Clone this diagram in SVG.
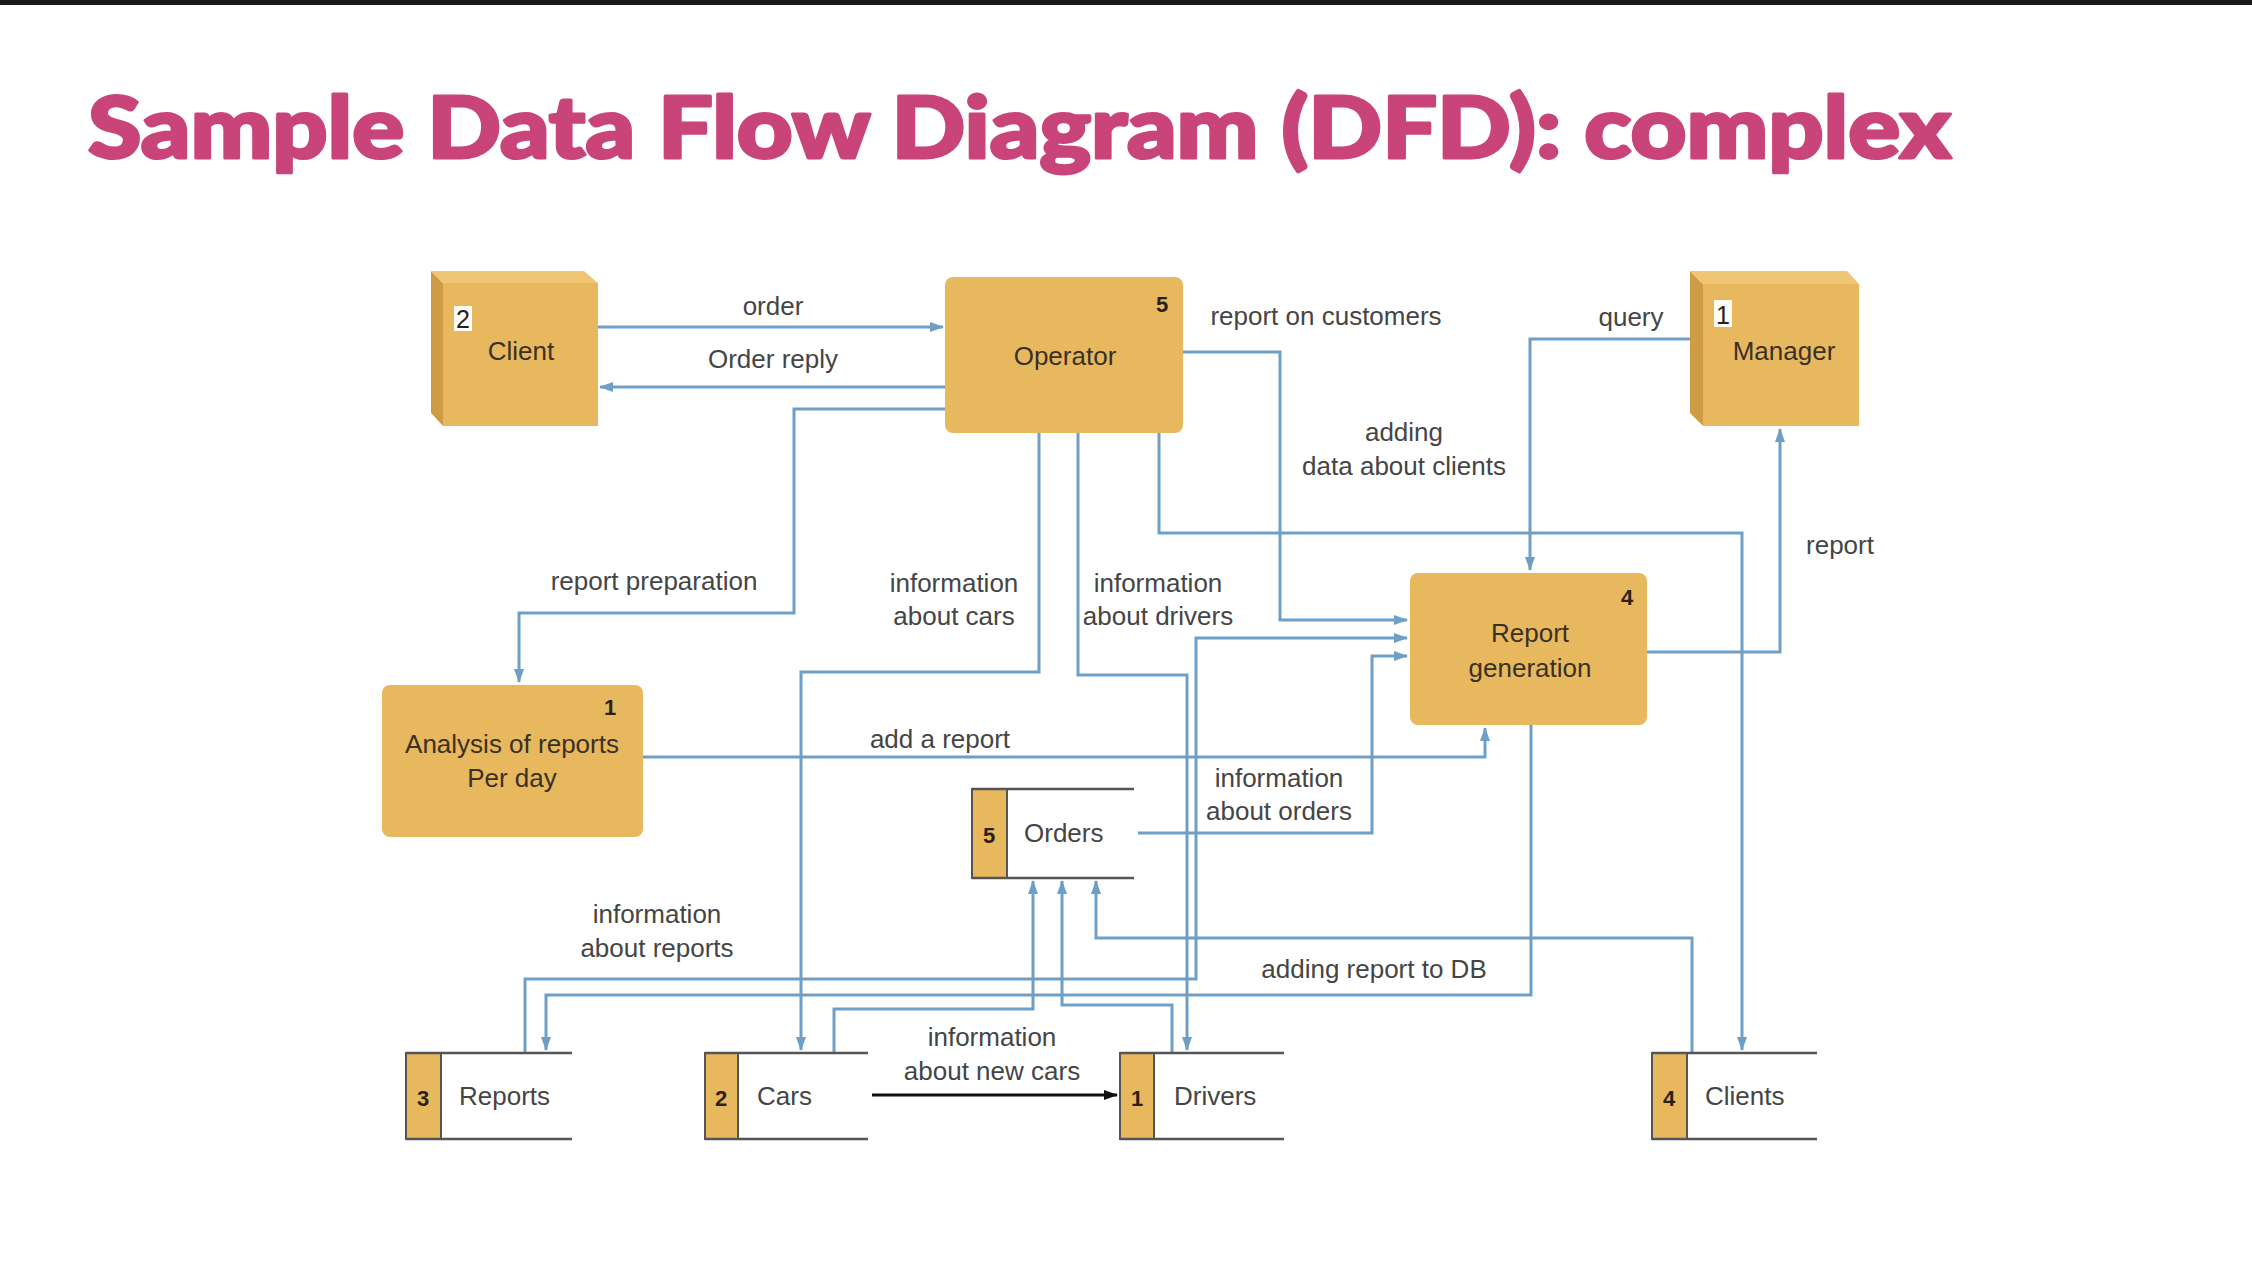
<svg xmlns="http://www.w3.org/2000/svg" width="2252" height="1274" viewBox="0 0 2252 1274">
<defs>
<marker id="ab" markerUnits="userSpaceOnUse" markerWidth="14" markerHeight="12" viewBox="0 0 14 12" refX="13" refY="6" orient="auto"><path d="M0,1 L14,6 L0,11 z" fill="#6e9fc7"/></marker>
<marker id="ak" markerUnits="userSpaceOnUse" markerWidth="14" markerHeight="12" viewBox="0 0 14 12" refX="13" refY="6" orient="auto"><path d="M0,1 L14,6 L0,11 z" fill="#111"/></marker>
</defs>
<style>
.t{font-family:"Liberation Sans",Arial,sans-serif;font-size:26px;fill:#454545;text-anchor:middle}
.n{font-family:"Liberation Sans",Arial,sans-serif;font-size:26px;fill:#3a3124;text-anchor:middle}
.s{font-family:"Liberation Sans",Arial,sans-serif;font-size:26px;fill:#454545}
.num{font-family:"Liberation Sans",Arial,sans-serif;font-size:22px;font-weight:bold;fill:#2a2218;text-anchor:middle}
.proc{fill:#e8b85e}
.front{fill:#e8b85e}
.side{fill:#cf9c45}
.top{fill:#f0c676}
.strip{fill:#e8b85e;stroke:#555;stroke-width:2}
.sl{stroke:#555;stroke-width:2.5;fill:none}
.c{fill:none;stroke:#6e9fc7;stroke-width:3;marker-end:url(#ab)}
</style>
<rect x="0" y="0" width="2252" height="1274" fill="#ffffff"/>
<rect x="0" y="0" width="2252" height="5" fill="#1a1a1a"/>
<text x="88" y="158" font-family="Lato,'Open Sans',sans-serif" font-weight="900" font-size="86" fill="#c84479" stroke="#c84479" stroke-width="3" stroke-linejoin="round" textLength="1863" lengthAdjust="spacingAndGlyphs">Sample Data Flow Diagram (DFD): complex</text>

<g id="connectors">
<path class="c" d="M598,327 H943"/>
<path class="c" d="M945,387 H600"/>
<path class="c" d="M945,409 H794 V613 H519 V682"/>
<path class="c" d="M1039,433 V672 H801 V1050"/>
<path class="c" d="M1078,433 V675 H1187 V1050"/>
<path class="c" d="M1183,352 H1280 V620 H1407"/>
<path class="c" d="M1159,433 V533 H1742 V1050"/>
<path class="c" d="M1690,339 H1530 V570"/>
<path class="c" d="M1647,652 H1780 V429"/>
<path class="c" d="M643,757 H1485 V728"/>
<path class="c" d="M1138,833 H1372 V656 H1407"/>
<path class="c" d="M525,1053 V979 H1196 V638 H1407"/>
<path class="c" d="M1531,725 V995 H546 V1050"/>
<path class="c" d="M1692,1053 V938 H1096 V881"/>
<path class="c" d="M1172,1053 V1005 H1062 V881"/>
<path class="c" d="M834,1053 V1009 H1033 V881"/>
<path d="M872,1095 H1117" fill="none" stroke="#111" stroke-width="3" marker-end="url(#ak)"/>
<text class="t" x="773" y="315">order</text>
<text class="t" x="773" y="368">Order reply</text>
<text class="t" x="1326" y="325">report on customers</text>
<text class="t" x="1631" y="326">query</text>
<text class="t" x="1404" y="441">adding</text>
<text class="t" x="1404" y="475">data about clients</text>
<text class="t" x="1840" y="554">report</text>
<text class="t" x="654" y="590">report preparation</text>
<text class="t" x="954" y="592">information</text>
<text class="t" x="954" y="625">about cars</text>
<text class="t" x="1158" y="592">information</text>
<text class="t" x="1158" y="625">about drivers</text>
<text class="t" x="940" y="748">add a report</text>
<text class="t" x="1279" y="787">information</text>
<text class="t" x="1279" y="820">about orders</text>
<text class="t" x="657" y="923">information</text>
<text class="t" x="657" y="957">about reports</text>
<text class="t" x="1374" y="978">adding report to DB</text>
<text class="t" x="992" y="1046">information</text>
<text class="t" x="992" y="1080">about new cars</text>
</g>

<g id="client">
<polygon class="side" points="431,271 443,283 443,426 431,413"/>
<polygon class="top" points="431,271 584,271 598,283 443,283"/>
<rect class="front" x="443" y="283" width="155" height="143"/>
<rect x="454" y="306" width="18" height="25" fill="#fffdf5"/>
<text x="463" y="328" font-family="Liberation Sans,Arial,sans-serif" font-size="25" fill="#222" text-anchor="middle">2</text>
<text class="n" x="521" y="360">Client</text>
</g>

<g id="manager">
<polygon class="side" points="1690,271 1703,284 1703,426 1690,413"/>
<polygon class="top" points="1690,271 1847,271 1859,284 1703,284"/>
<rect class="front" x="1703" y="284" width="156" height="142"/>
<rect x="1714" y="300" width="18" height="27" fill="#fffdf5"/>
<text x="1723" y="324" font-family="Liberation Sans,Arial,sans-serif" font-size="25" fill="#222" text-anchor="middle">1</text>
<text class="n" x="1784" y="360">Manager</text>
</g>

<g id="operator">
<rect class="proc" x="945" y="277" width="238" height="156" rx="8"/>
<text class="num" x="1162" y="312">5</text>
<text class="n" x="1065" y="365">Operator</text>
</g>

<g id="report-generation">
<rect class="proc" x="1410" y="573" width="237" height="152" rx="8"/>
<text class="num" x="1627" y="605">4</text>
<text class="n" x="1530" y="642">Report</text>
<text class="n" x="1530" y="677">generation</text>
</g>

<g id="analysis">
<rect class="proc" x="382" y="685" width="261" height="152" rx="8"/>
<text class="num" x="610" y="715">1</text>
<text class="n" x="512" y="753">Analysis of reports</text>
<text class="n" x="512" y="787">Per day</text>
</g>

<g id="orders">
<rect class="strip" x="972" y="789" width="35" height="89"/>
<path class="sl" d="M972,789 H1134 M972,878 H1134"/>
<text class="num" x="989" y="843" font-size="25">5</text>
<text class="s" x="1024" y="842">Orders</text>
</g>

<g id="reports">
<rect class="strip" x="406" y="1053" width="35" height="86"/>
<path class="sl" d="M406,1053 H572 M406,1139 H572"/>
<text class="num" x="423" y="1106" font-size="25">3</text>
<text class="s" x="459" y="1105">Reports</text>
</g>

<g id="cars">
<rect class="strip" x="705" y="1053" width="33" height="86"/>
<path class="sl" d="M705,1053 H868 M705,1139 H868"/>
<text class="num" x="721" y="1106" font-size="25">2</text>
<text class="s" x="757" y="1105">Cars</text>
</g>

<g id="drivers">
<rect class="strip" x="1120" y="1053" width="34" height="86"/>
<path class="sl" d="M1120,1053 H1284 M1120,1139 H1284"/>
<text class="num" x="1137" y="1106" font-size="25">1</text>
<text class="s" x="1174" y="1105">Drivers</text>
</g>

<g id="clients">
<rect class="strip" x="1652" y="1053" width="35" height="86"/>
<path class="sl" d="M1652,1053 H1817 M1652,1139 H1817"/>
<text class="num" x="1669" y="1106" font-size="25">4</text>
<text class="s" x="1705" y="1105">Clients</text>
</g>
</svg>
